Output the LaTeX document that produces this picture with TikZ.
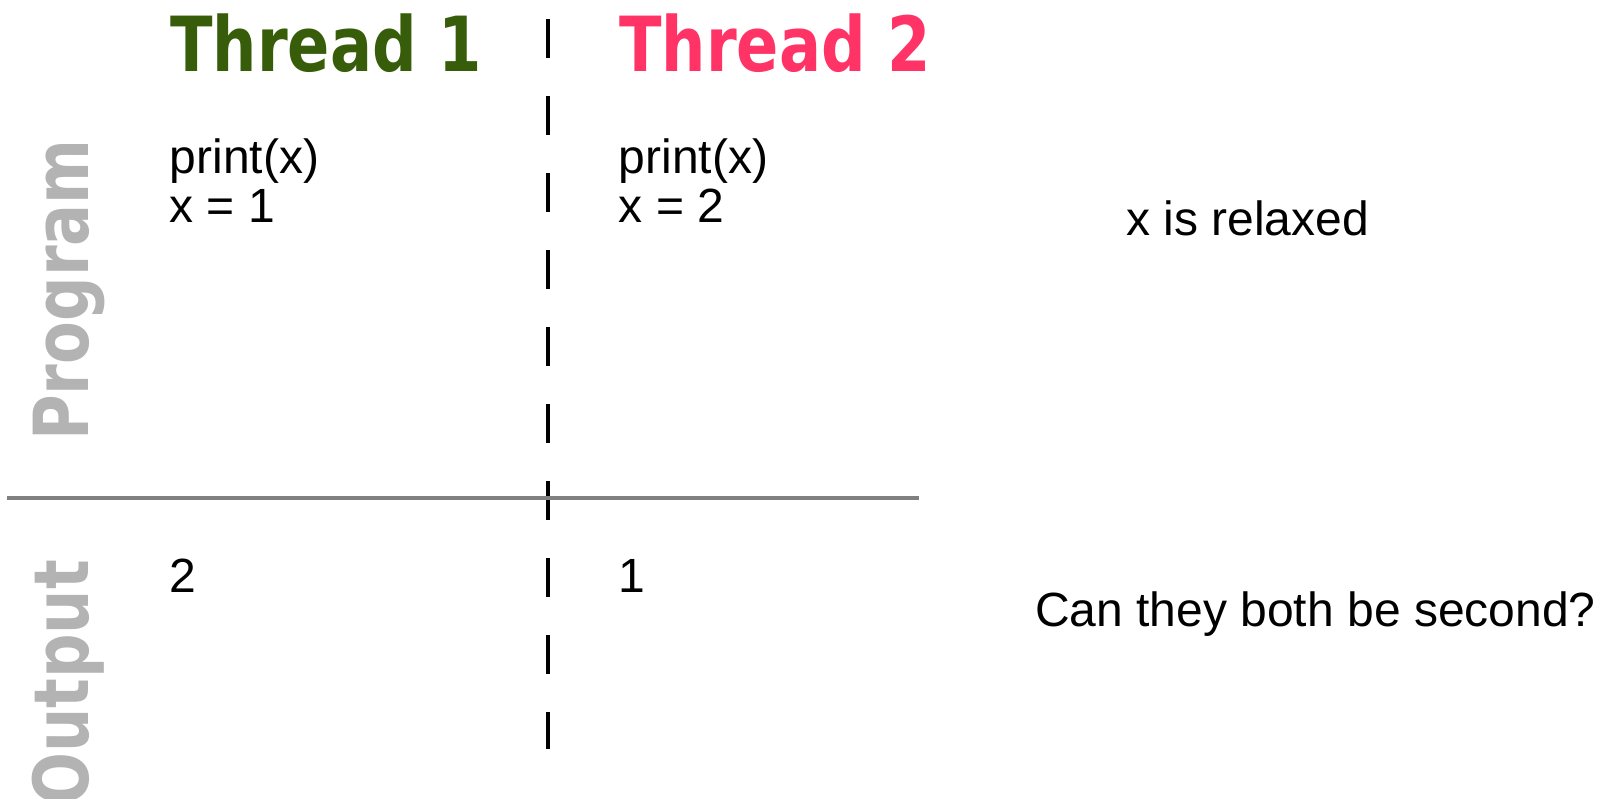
\documentclass[tikz,border=0pt]{standalone}
\usepackage{fontspec}
\setmainfont{Liberation Sans}
\newfontfamily\headfont[FakeStretch=0.82]{DejaVu Sans}
\usepackage{xcolor}
\usepackage{tikz}
\usetikzlibrary{positioning}
\definecolor{threadone}{HTML}{385D0A}
\definecolor{threadtwo}{HTML}{FF3366}
\definecolor{rowgray}{HTML}{B3B3B3}
\definecolor{rulegray}{HTML}{808080}
\tikzset{
	threadhead/.style={anchor=base west, inner sep=0pt, font=\headfont\bfseries\fontsize{76}{80}\selectfont, text=#1},
	rowlabel/.style={rotate=90, anchor=base west, inner sep=0pt, font=\headfont\bfseries\fontsize{76}{80}\selectfont, text=rowgray},
	codetext/.style={anchor=base west, inner sep=0pt, font=\fontsize{48}{50}\selectfont},
	notetext/.style={anchor=base west, inner sep=0pt, font=\fontsize{48}{52}\selectfont},
	threadsep/.style={line width=3.3pt, dash pattern=on 38.5pt off 38.5pt},
	rowsep/.style={line width=3.4pt, draw=rulegray},
}

\begin{document}
\begin{tikzpicture}[x=1pt, y=-1pt]
	\useasboundingbox (0,0) rectangle (1601,798);
	\clip (0,0) rectangle (1601,798);
	% headings
	\node[threadhead=threadone] (t1) at (170,71.5) {Thread 1};
	\node[threadhead=threadtwo] (t2) at (619,71.5) {Thread 2};
	% row labels
	\node[rowlabel] (prog) at (88,441) {Program};
	\node[rowlabel] (outp) at (88,806) {Output};
	% code
	\node[codetext] (c1a) at (169.5,173) {print(x)};
	\node[codetext] (c1b) at (169.5,222) {x = 1};
	\node[codetext] (c2a) at (618.5,173) {print(x)};
	\node[codetext] (c2b) at (618.5,222) {x = 2};
	% outputs
	\node[codetext] (o1) at (169.5,592) {2};
	\node[codetext] (o2) at (618.5,592) {1};
	% notes
	\node[notetext] (n1) at (1126,235) {x is relaxed};
	\node[notetext] (n2) at (1035,626) {Can they both be second?};
	% dividers
	\coordinate (septop) at (548,19);
	\coordinate (sepbot) at (548,749);
	\coordinate (rowl) at (7,498);
	\coordinate (rowr) at (919,498);
	\draw[threadsep] (septop) -- (sepbot);
	\draw[rowsep] (rowl) -- (rowr);
\end{tikzpicture}
\end{document}
